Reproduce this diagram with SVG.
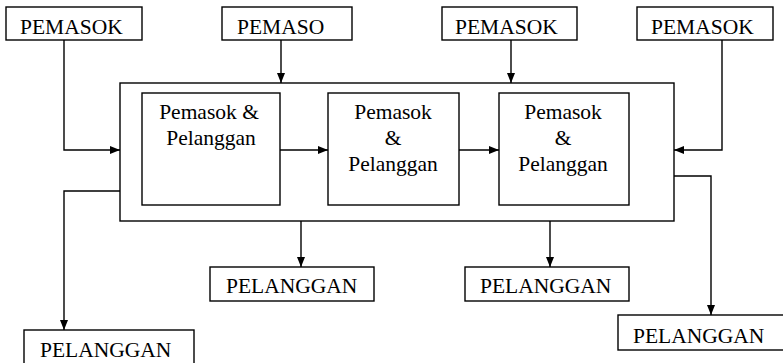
<svg xmlns="http://www.w3.org/2000/svg" width="783" height="363" viewBox="0 0 783 363">
<style>
.b{fill:#fff;stroke:#000;stroke-width:1.4}
.c{fill:none;stroke:#000;stroke-width:1.4}
text{font-family:"Liberation Serif","Times New Roman",serif;font-size:21.5px;fill:#000}
.m{text-anchor:middle}
</style>
<defs>
<marker id="ar" viewBox="0 0 10 8" refX="10" refY="4" markerWidth="10" markerHeight="8" markerUnits="userSpaceOnUse" orient="auto">
<path d="M0,0 L10,4 L0,8 Z" fill="#000"/>
</marker>
</defs>
<rect width="783" height="363" fill="#fff"/>
<g id="outer"><rect class="b" x="120" y="83" width="554" height="138"/></g>
<g id="p1"><rect class="b" x="6" y="7" width="136" height="33"/><text x="20" y="34">PEMASOK</text></g>
<g id="p2"><rect class="b" x="222" y="7" width="130" height="33"/><text x="237" y="34">PEMASO</text></g>
<g id="p3"><rect class="b" x="442" y="7" width="135" height="33"/><text x="455" y="34">PEMASOK</text></g>
<g id="p4"><rect class="b" x="637" y="7" width="136" height="33"/><text x="651" y="34">PEMASOK</text></g>
<g id="i1"><rect class="b" x="142" y="93" width="138" height="112"/><text class="m" x="209" y="119">Pemasok &amp;</text><text class="m" x="211" y="145">Pelanggan</text></g>
<g id="i2"><rect class="b" x="328" y="93" width="131" height="112"/><text class="m" x="393" y="119">Pemasok</text><text class="m" x="393" y="145">&amp;</text><text class="m" x="393" y="171">Pelanggan</text></g>
<g id="i3"><rect class="b" x="499" y="93" width="130" height="112"/><text class="m" x="563" y="119">Pemasok</text><text class="m" x="563" y="145">&amp;</text><text class="m" x="563" y="171">Pelanggan</text></g>
<g id="c1"><rect class="b" x="24" y="330" width="170" height="40"/><text x="40" y="357">PELANGGAN</text></g>
<g id="c2"><rect class="b" x="210" y="267" width="164" height="34"/><text x="226" y="293">PELANGGAN</text></g>
<g id="c3"><rect class="b" x="465" y="267" width="164" height="34"/><text x="480" y="293">PELANGGAN</text></g>
<g id="c4"><rect class="b" x="618" y="315" width="170" height="35"/><text x="633" y="343">PELANGGAN</text></g>
<g id="connectors">
<path class="c" d="M64,40 V150 H120" marker-end="url(#ar)"/>
<path class="c" d="M281,40 V83" marker-end="url(#ar)"/>
<path class="c" d="M511,40 V83" marker-end="url(#ar)"/>
<path class="c" d="M722,40 V150 H674" marker-end="url(#ar)"/>
<path class="c" d="M280,150 H328" marker-end="url(#ar)"/>
<path class="c" d="M459,150 H499" marker-end="url(#ar)"/>
<path class="c" d="M120,191 H64 V330" marker-end="url(#ar)"/>
<path class="c" d="M301,221 V267" marker-end="url(#ar)"/>
<path class="c" d="M550,221 V267" marker-end="url(#ar)"/>
<path class="c" d="M674,176 H711 V315" marker-end="url(#ar)"/>
</g>
</svg>
